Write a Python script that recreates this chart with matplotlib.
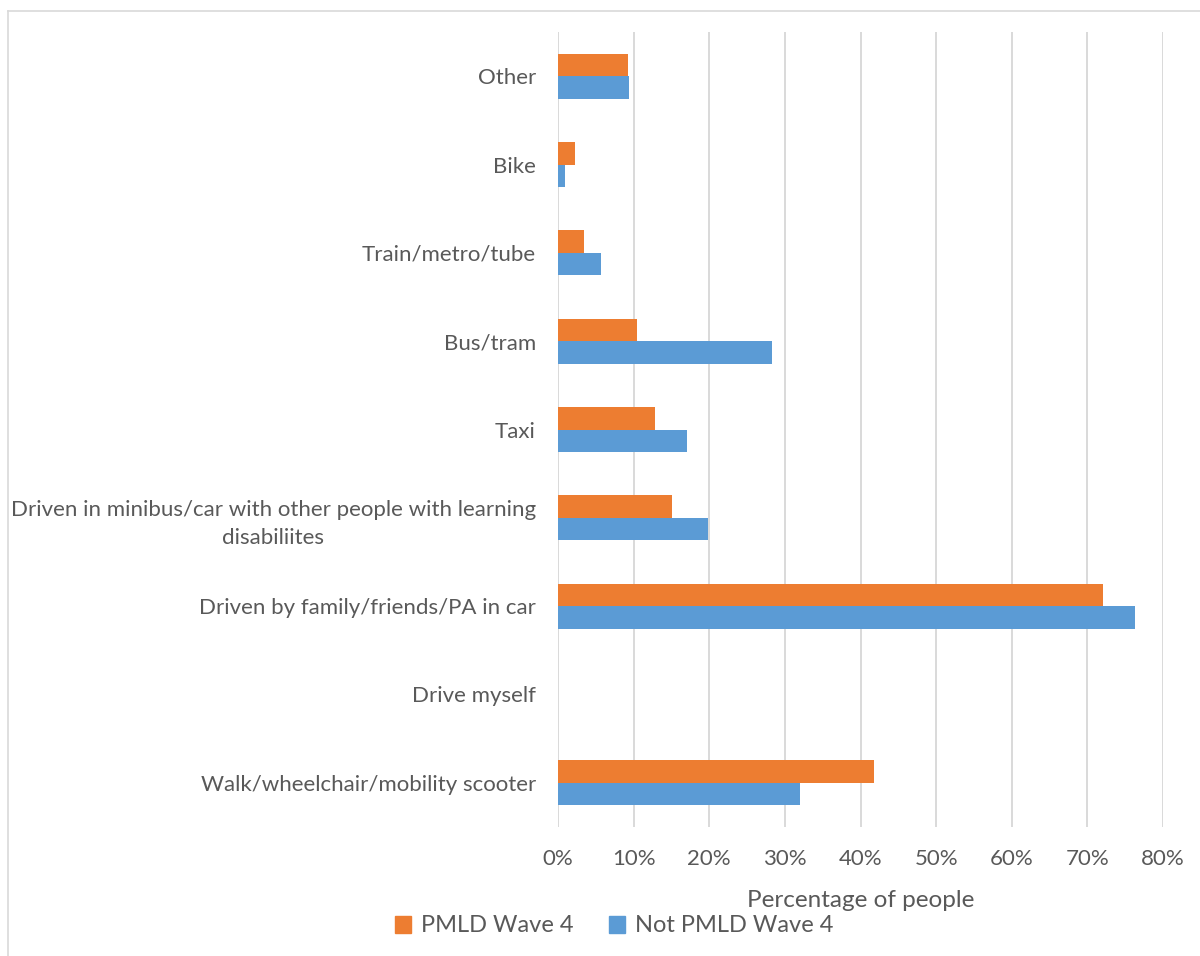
import matplotlib
matplotlib.use("Agg")
import matplotlib.pyplot as plt
from matplotlib.lines import Line2D
from matplotlib.patches import Patch
import numpy as np

plt.rcParams['font.family'] = ['Lato', 'DejaVu Sans']

categories = [
    "Walk/wheelchair/mobility scooter",
    "Drive myself",
    "Driven by family/friends/PA in car",
    "Driven in minibus/car with other people with learning\ndisabiliites",
    "Taxi",
    "Bus/tram",
    "Train/metro/tube",
    "Bike",
    "Other",
]
pmld = [41.8, 0.0, 72.0, 15.1, 12.8, 10.5, 3.5, 2.3, 9.3]
not_pmld = [32.0, 0.0, 76.3, 19.8, 17.0, 28.3, 5.7, 0.9, 9.4]
xticks = [0, 10, 20, 30, 40, 50, 60, 70, 80]
series_names = ["PMLD Wave 4", "Not PMLD Wave 4"]

ORANGE = "#ED7D31"
BLUE = "#5B9BD5"
TXT = "#595959"
GRID = "#D9D9D9"

fig = plt.figure(figsize=(12, 9.56), dpi=100)
ax = fig.add_axes([558/1200, 1-827/956, (1163-558)/1200, (827-32)/956])

y = np.arange(len(categories))
h = 0.255
ax.barh(y + h/2, pmld, height=h, color=ORANGE, zorder=3)
ax.barh(y - h/2, not_pmld, height=h, color=BLUE, zorder=3)

ax.set_xlim(0, 80)
ax.set_ylim(-0.5, len(categories) - 0.5)
ax.set_xticks(xticks)
ax.set_xticklabels([f"{v}%" for v in xticks])
ax.set_yticks(y)
ax.set_yticklabels(categories, multialignment='center', linespacing=1.5)
ax.tick_params(axis='both', length=0, colors=TXT, labelsize=16)
ax.tick_params(axis='y', pad=16)
ax.tick_params(axis='x', pad=16)
for s in ax.spines.values():
    s.set_visible(False)
ax.xaxis.grid(True, color=GRID, linewidth=1.4, zorder=0)
ax.set_axisbelow(True)
ax.set_xlabel("Percentage of people", color=TXT, fontsize=17.5, labelpad=15)

handles = [Patch(color=ORANGE), Patch(color=BLUE)]
leg = fig.legend(handles, series_names, loc='center', bbox_to_anchor=(614/1200, 1-926/956),
                 ncol=2, frameon=False, fontsize=17, handlelength=0.7, handleheight=0.7,
                 handletextpad=0.4, columnspacing=1.5)
for t in leg.get_texts():
    t.set_color(TXT)

fig.add_artist(Line2D([8/1200, 1], [1-11/956, 1-11/956], color=GRID, lw=1.2, transform=fig.transFigure))
fig.add_artist(Line2D([8/1200, 8/1200], [0, 1-11/956], color=GRID, lw=1.2, transform=fig.transFigure))

fig.savefig("out.png", dpi=100, facecolor="white")
